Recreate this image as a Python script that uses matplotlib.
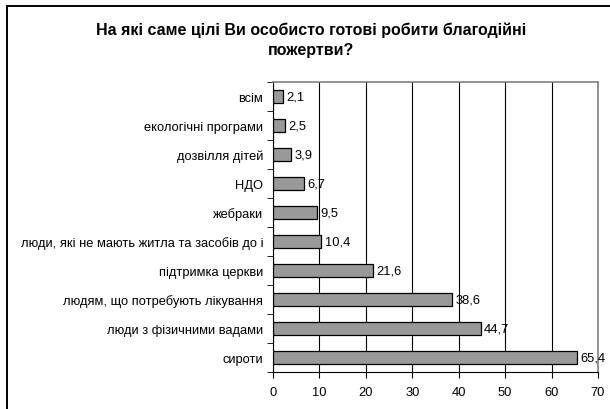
import matplotlib
matplotlib.use("Agg")
import matplotlib.pyplot as plt
from matplotlib.lines import Line2D
import numpy as np

plt.rcParams['font.family'] = ['Liberation Sans', 'DejaVu Sans']

# data, top to bottom as in the chart
categories = ["всім", "екологічні програми", "дозвілля дітей", "НДО", "жебраки",
              "люди, які не мають житла та засобів до і", "підтримка церкви",
              "людям, що потребують лікування", "люди з фізичними вадами", "сироти"]
values = [2.1, 2.5, 3.9, 6.7, 9.5, 10.4, 21.6, 38.6, 44.7, 65.4]
xticks = [0, 10, 20, 30, 40, 50, 60, 70]

fig = plt.figure(figsize=(6.1, 4.1), dpi=100)
ax = fig.add_axes([273/610, 1-373/410, (598-273)/610, (373-83)/410])

y = np.arange(len(categories))
ax.barh(y, values, height=0.42, color="#999999", edgecolor="black", linewidth=0.9, zorder=3)
for yi, v in zip(y, values):
    ax.text(v + 0.7, yi, ("%.1f" % v).replace(".", ","), va="center", ha="left",
            fontsize=9.3, zorder=4)

ax.set_xlim(0, 70)
ax.set_ylim(len(categories) - 0.5, -0.5)
ax.set_xticks(xticks)
ax.set_xticklabels([str(t) for t in xticks], fontsize=9.3)
ax.set_yticks(y)
ax.set_yticklabels(categories, fontsize=9.3)
ax.tick_params(axis="y", length=0, pad=7)
ax.set_yticks(np.arange(-0.5, len(categories)), minor=True)
ax.tick_params(axis="y", which="minor", length=4, color="black", direction="out")
ax.tick_params(axis="x", length=4, color="black", pad=6)
ax.grid(axis="x", color="black", linewidth=0.8, zorder=0)

ax.spines["left"].set_color("black")
ax.spines["bottom"].set_color("black")
ax.spines["top"].set_color("#808080")
ax.spines["right"].set_color("#808080")
ax.spines["top"].set_linewidth(1.2)
ax.spines["right"].set_linewidth(1.2)

fig.text(311/610, 1-30/410, "На які саме цілі Ви особисто готові робити благодійні",
         ha="center", va="center", fontsize=11.5, fontweight="bold")
fig.text(311/610, 1-51/410, "пожертви?", ha="center", va="center", fontsize=11.5, fontweight="bold")

# outer frame: only left and top edges fall inside the picture
l, t = 7/610, 1-7/410
for xs, ys in [([l, l], [0, t]), ([l, 1], [t, t])]:
    fig.add_artist(Line2D(xs, ys, color="black", linewidth=1.4))

fig.savefig("out.png", dpi=100)
